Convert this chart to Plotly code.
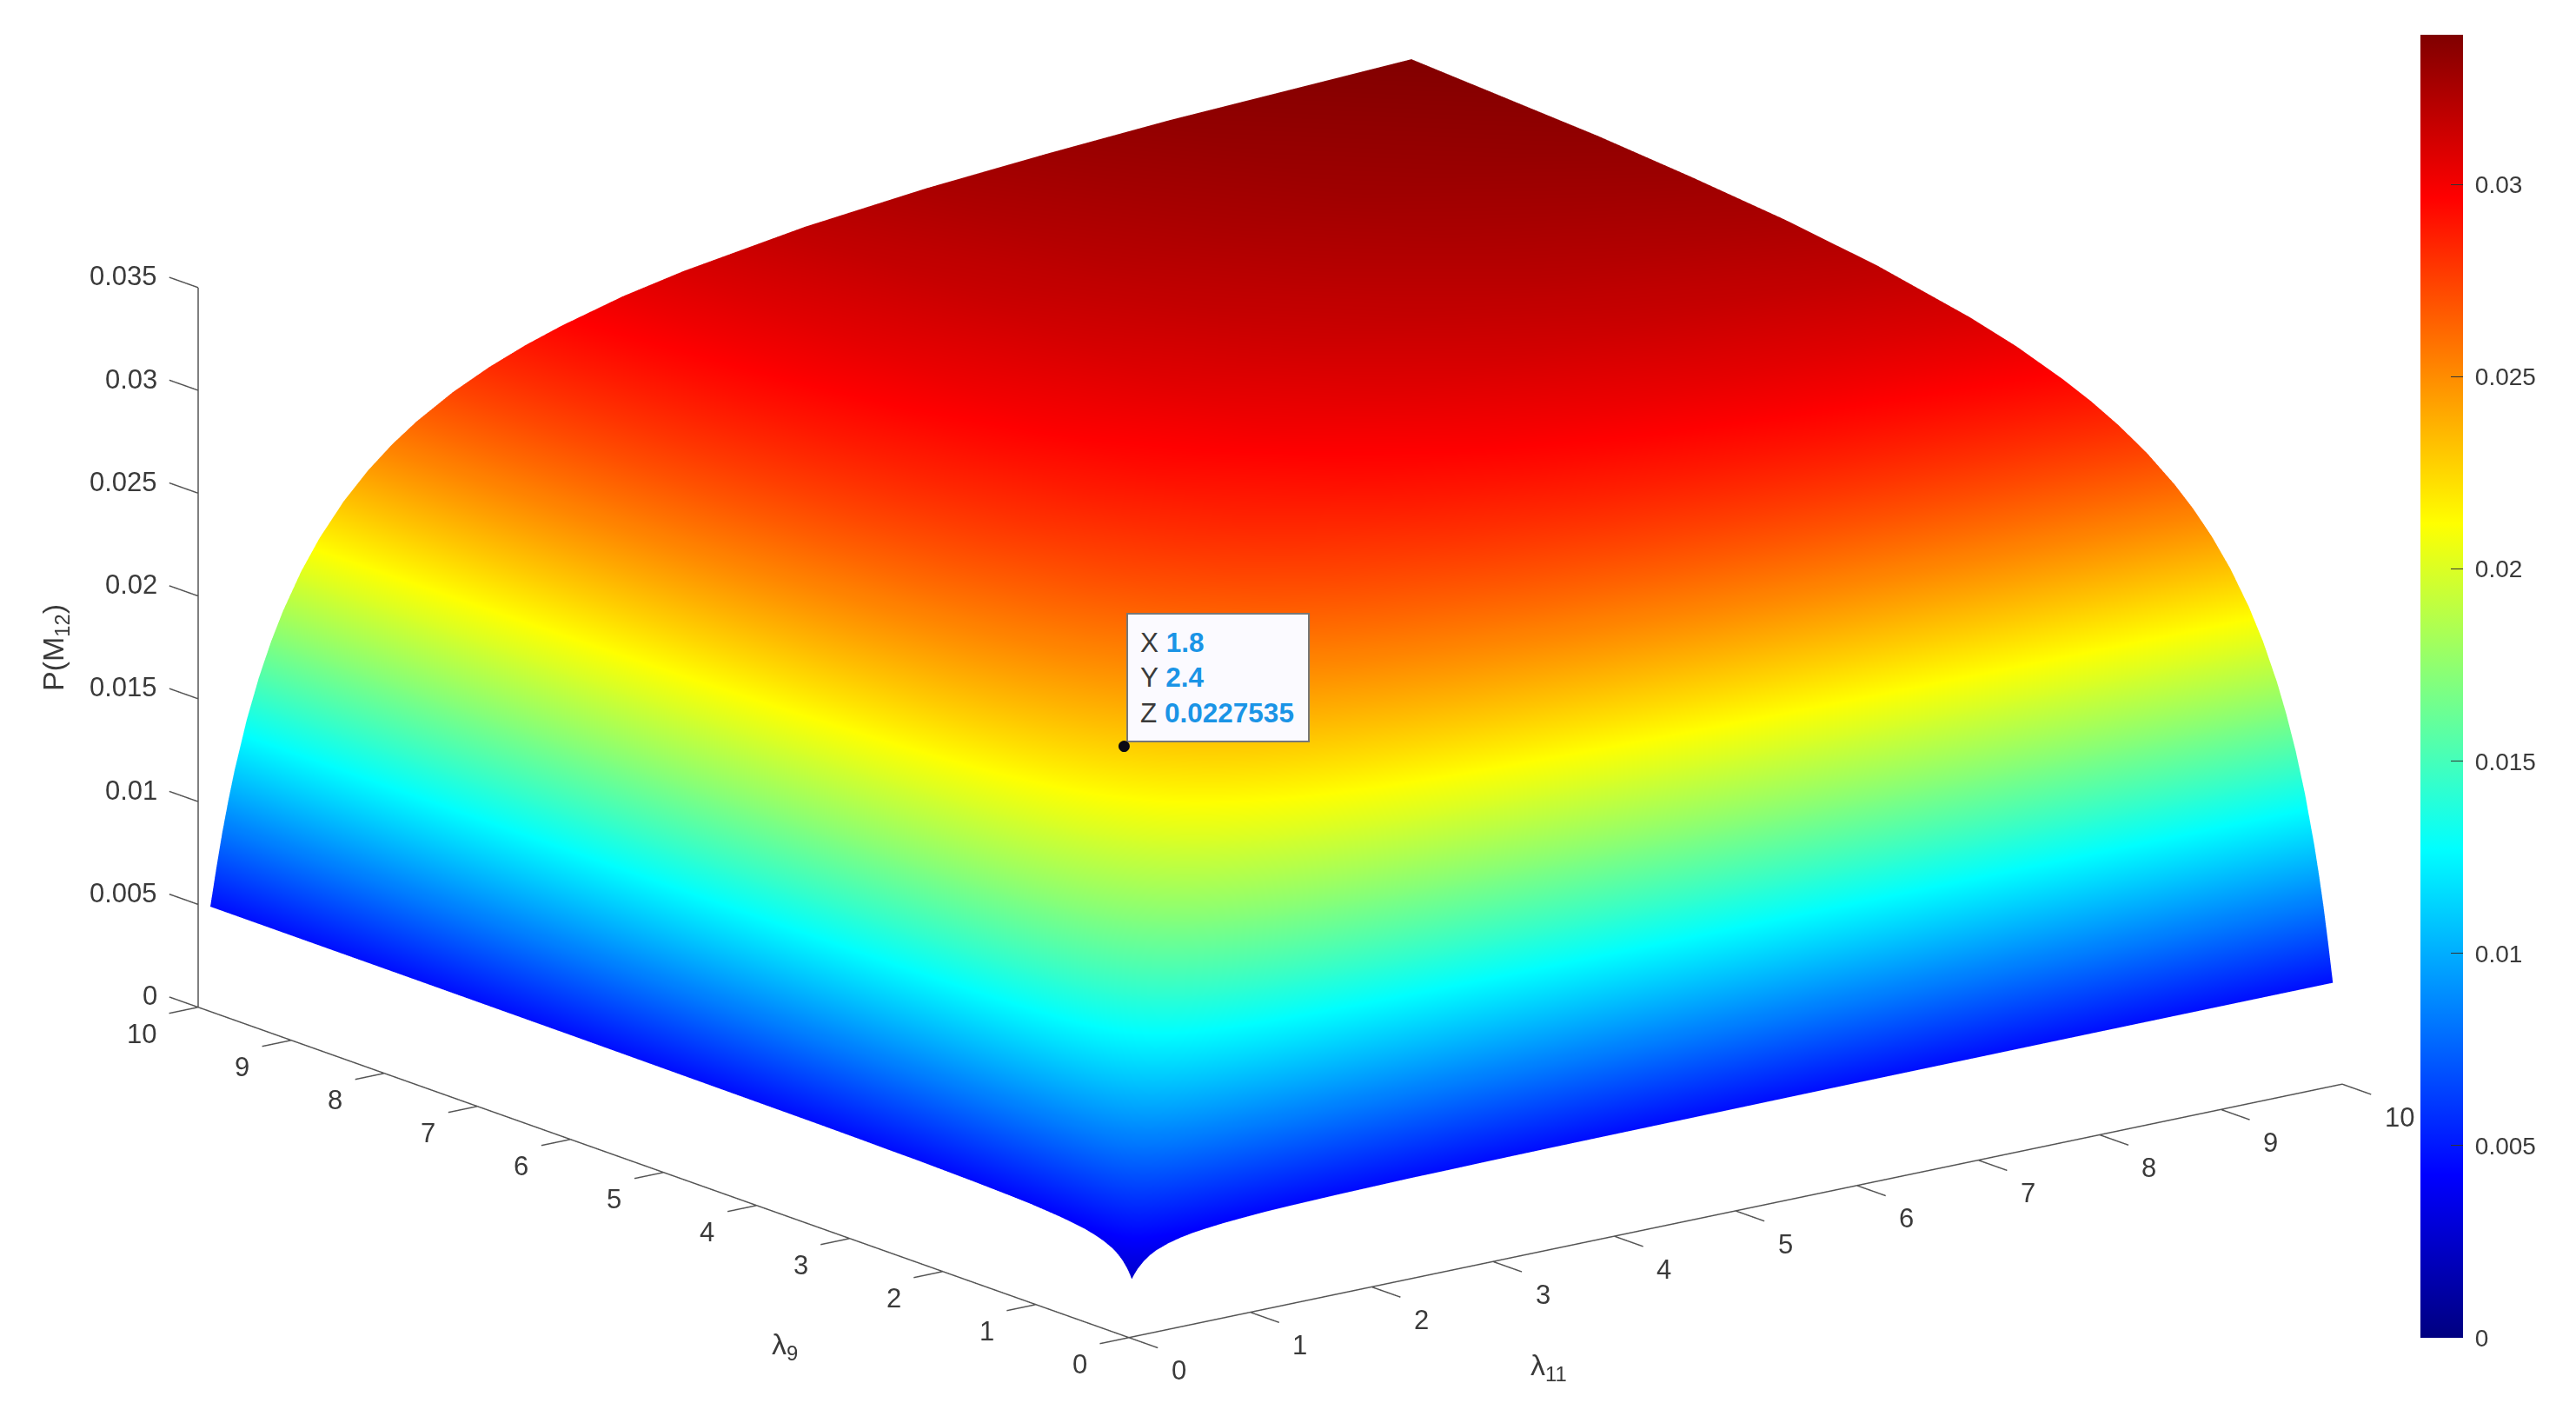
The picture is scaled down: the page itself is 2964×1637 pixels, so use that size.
"""
Surface of P(M12) against lambda_9 and lambda_11, with data tip and jet colorbar.
Values are read from the picture; the surface looks symmetric so only the upper
triangle of the table is kept.
"""

import plotly.graph_objects as go

# Grid of lambda values (both axes)
LAMBDA = [0.1, 0.12, 0.15, 0.2, 0.25, 0.3, 0.4, 0.5, 0.6, 0.7, 0.85, 1, 1.2, 1.4,
          1.6, 1.8, 2.1, 2.4, 2.7, 3, 3.5, 4, 5, 6, 7, 8, 10]

# P(M12), one row per lambda, starting on the diagonal
P_ROWS = [
    [.00256, .00276, .00301, .00332, .00354, .00371, .00393, .00408, .00419, .00426, .00435, .00441, .00448, .00452, .00455, .00458, .00461, .00464, .00465, .00467, .00469, .00470, .00472, .00474, .00475, .00476, .00477],
    [.00299, .00329, .00366, .00392, .00413, .00441, .00460, .00473, .00483, .00494, .00502, .00510, .00516, .00521, .00524, .00528, .00531, .00534, .00536, .00538, .00540, .00543, .00545, .00546, .00547, .00549],
    [.00365, .00412, .00446, .00472, .00509, .00535, .00553, .00567, .00582, .00594, .00605, .00613, .00619, .00624, .00630, .00635, .00638, .00641, .00645, .00647, .00651, .00654, .00656, .00657, .00659],
    [.00472, .00518, .00553, .00605, .00641, .00667, .00688, .00711, .00728, .00744, .00757, .00767, .00774, .00783, .00790, .00795, .00800, .00805, .00810, .00816, .00820, .00823, .00825, .00829],
    [.00573, .00617, .00682, .00728, .00762, .00789, .00819, .00842, .00864, .00881, .00894, .00904, .00917, .00926, .00933, .00939, .00947, .00953, .00962, .00968, .00972, .00975, .00979],
    [.00668, .00745, .00800, .00842, .00874, .00912, .00940, .00968, .00989, .01005, .01019, .01034, .01046, .01056, .01063, .01074, .01081, .01092, .01100, .01105, .01109, .01115],
    [.00842, .00913, .00968, .01011, .01061, .01100, .01139, .01168, .01191, .01210, .01232, .01249, .01262, .01273, .01288, .01299, .01315, .01326, .01333, .01339, .01348],
    [.00998, .01064, .01116, .01178, .01225, .01273, .01310, .01339, .01363, .01391, .01413, .01430, .01444, .01463, .01477, .01498, .01512, .01522, .01530, .01541],
    [.01138, .01199, .01270, .01325, .01382, .01426, .01460, .01488, .01522, .01548, .01569, .01586, .01609, .01626, .01651, .01668, .01680, .01690, .01703],
    [.01266, .01346, .01408, .01472, .01522, .01561, .01593, .01632, .01661, .01685, .01705, .01732, .01752, .01781, .01801, .01815, .01826, .01842],
    [.01436, .01507, .01581, .01639, .01684, .01722, .01767, .01802, .01830, .01854, .01885, .01908, .01943, .01967, .01984, .01997, .02016],
    [.01586, .01668, .01732, .01783, .01825, .01875, .01915, .01947, .01974, .02009, .02036, .02075, .02102, .02122, .02137, .02158],
    [.01759, .01830, .01887, .01934, .01991, .02036, .02072, .02102, .02142, .02173, .02218, .02249, .02271, .02289, .02313],
    [.01907, .01969, .02021, .02083, .02132, .02172, .02205, .02249, .02283, .02332, .02366, .02391, .02411, .02438],
    [.02036, .02091, .02157, .02210, .02253, .02288, .02336, .02372, .02426, .02463, .02490, .02511, .02541],
    [.02149, .02219, .02275, .02320, .02358, .02408, .02447, .02504, .02544, .02573, .02595, .02627],
    [.02295, .02354, .02403, .02443, .02498, .02539, .02601, .02643, .02675, .02699, .02733],
    [.02417, .02468, .02511, .02568, .02612, .02677, .02723, .02756, .02782, .02818],
    [.02521, .02566, .02626, .02672, .02740, .02788, .02822, .02850, .02888],
    [.02612, .02675, .02723, .02793, .02843, .02879, .02907, .02946],
    [.02740, .02790, .02864, .02916, .02954, .02984, .03026],
    [.02843, .02920, .02974, .03013, .03044, .03087],
    [.03001, .03058, .03100, .03133, .03179],
    [.03117, .03161, .03195, .03243],
    [.03205, .03240, .03289],
    [.03277, .03327],
    [.03378],
]

# Data tip
TIP_X = 1.8
TIP_Y = 2.4
TIP_Z = 0.0227535

# Ticks
LAMBDA_TICKS = [0, 1, 2, 3, 4, 5, 6, 7, 8, 9, 10]
Z_TICKS = [0, 0.005, 0.01, 0.015, 0.02, 0.025, 0.03, 0.035]
Z_TICK_TEXT = ['0', '0.005', '0.01', '0.015', '0.02', '0.025', '0.03', '0.035']
BAR_TICKS = [0, 0.005, 0.01, 0.015, 0.02, 0.025, 0.03]
BAR_TICK_TEXT = ['\u00a00', '\u00a00.005', '\u00a00.01', '\u00a00.015', '\u00a00.02', '\u00a00.025', '\u00a00.03']

JET = [
    [0, 'rgb(0,0,128)'],
    [0.125, 'rgb(0,0,255)'],
    [0.375, 'rgb(0,255,255)'],
    [0.625, 'rgb(255,255,0)'],
    [0.875, 'rgb(255,0,0)'],
    [1, 'rgb(128,0,0)'],
]

FONT = 'Liberation Sans'
TEXT_COLOR = '#3a3a3a'
AXIS_COLOR = '#555555'
VALUE_COLOR = '#1a94e6'

# Tick stub lengths in axis units
X_STUB = 0.31
Y_STUB = 0.24
Z_STUB = 0.31

# Scene scale, found by comparing the drawn corners with the reference
BOX_SCALE = 2.23

# Mirror the upper triangle into the full table
n = len(LAMBDA)
z_table = [[0.0] * n for _ in range(n)]
for i, row in enumerate(P_ROWS):
    for k, value in enumerate(row):
        z_table[i][i + k] = value
        z_table[i + k][i] = value

fig = go.Figure()

fig.add_trace(go.Surface(
    x=LAMBDA,
    y=LAMBDA,
    z=z_table,
    cmin=0,
    cmax=0.0339,
    colorscale=JET,
    showscale=True,
    hoverinfo='skip',
    lighting=dict(ambient=1, diffuse=0, specular=0, roughness=1, fresnel=0),
    colorbar=dict(
        x=2785 / 2964,
        xanchor='left',
        xpad=0,
        y=0.5177,
        yanchor='middle',
        ypad=0,
        lenmode='fraction',
        len=0.9157,
        thicknessmode='pixels',
        thickness=49,
        outlinewidth=0,
        ticks='inside',
        ticklen=14,
        tickcolor='#333333',
        tickvals=BAR_TICKS,
        ticktext=BAR_TICK_TEXT,
        tickfont=dict(family=FONT, size=28, color=TEXT_COLOR),
    ),
))

# Axis lines and tick stubs are drawn as one broken line in data coordinates
line_x, line_y, line_z = [0, 10, None, 0, 0, None, 0, 0, None], [0, 0, None, 0, 10, None, 10, 10, None], [0, 0, None, 0, 0, None, 0, 0.035, None]
for t in LAMBDA_TICKS:
    line_x += [t, t, None]
    line_y += [0, -X_STUB, None]
    line_z += [0, 0, None]
    line_x += [0, -Y_STUB, None]
    line_y += [t, t, None]
    line_z += [0, 0, None]
for t in Z_TICKS:
    line_x += [0, 0, None]
    line_y += [10, 10 + Z_STUB, None]
    line_z += [t, t, None]

fig.add_trace(go.Scatter3d(
    x=line_x,
    y=line_y,
    z=line_z,
    mode='lines',
    line=dict(color=AXIS_COLOR, width=3),
    hoverinfo='skip',
    showlegend=False,
))

tip_text = (
    f'X <span style="color:{VALUE_COLOR}"><b>{TIP_X}</b></span><br>'
    f'Y <span style="color:{VALUE_COLOR}"><b>{TIP_Y}</b></span><br>'
    f'Z <span style="color:{VALUE_COLOR}"><b>{TIP_Z}</b></span>'
)

tick_font = dict(family=FONT, size=31, color=TEXT_COLOR)
scene_notes = [
    dict(
        x=TIP_X, y=TIP_Y, z=TIP_Z,
        text=tip_text,
        showarrow=False,
        xanchor='left',
        yanchor='bottom',
        xshift=3,
        yshift=3,
        align='left',
        width=179,
        height=117,
        borderpad=14,
        bgcolor='#fbfaff',
        bordercolor='#777777',
        borderwidth=2,
        font=dict(family=FONT, size=31.5, color=TEXT_COLOR),
    ),
    # The dot is SVG text so the surface cannot cut through it
    dict(
        x=TIP_X, y=TIP_Y, z=TIP_Z,
        text='●',
        showarrow=False,
        xanchor='center',
        yanchor='middle',
        borderpad=0,
        font=dict(family='DejaVu Sans', size=17, color='#0a0a14'),
    ),
]
for t in LAMBDA_TICKS:
    scene_notes.append(dict(x=t, y=0, z=0, text=str(t), showarrow=False, font=tick_font,
                            xanchor='left', yanchor='middle', xshift=47, yshift=-38))
    scene_notes.append(dict(x=0, y=t, z=0, text=str(t), showarrow=False, font=tick_font,
                            xanchor='right', yanchor='middle', xshift=-46, yshift=-31))
for t, label in zip(Z_TICKS, Z_TICK_TEXT):
    scene_notes.append(dict(x=0, y=10, z=t, text=label, showarrow=False, font=tick_font,
                            xanchor='right', yanchor='middle', xshift=-45, yshift=13))

hidden_axis = dict(visible=False, showspikes=False)

fig.update_layout(
    width=2964,
    height=1637,
    autosize=False,
    margin=dict(l=0, r=0, t=0, b=0),
    paper_bgcolor='white',
    showlegend=False,
    font=dict(family=FONT, color=TEXT_COLOR),
    scene=dict(
        domain=dict(x=[0, 0.986], y=[0.036, 1]),
        aspectmode='manual',
        aspectratio=dict(x=1.07 * BOX_SCALE, y=1.07 * BOX_SCALE, z=0.489 * BOX_SCALE),
        camera=dict(
            projection=dict(type='orthographic'),
            eye=dict(x=-2.343, y=-3.054, z=1.089),
            center=dict(x=0, y=0, z=0),
            up=dict(x=0, y=0, z=1),
        ),
        xaxis=dict(hidden_axis, range=[-0.35, 10.35]),
        yaxis=dict(hidden_axis, range=[-0.35, 10.35]),
        zaxis=dict(hidden_axis, range=[0, 0.035]),
        annotations=scene_notes,
    ),
    annotations=[
        dict(text='P(M<sub>12</sub>)', x=63 / 2964, y=1 - 745 / 1637, xref='paper', yref='paper',
             xanchor='center', yanchor='middle',
             showarrow=False, textangle=-90, font=dict(family=FONT, size=34, color=TEXT_COLOR)),
        dict(text='λ<sub>9</sub>', x=903 / 2964, y=1 - 1548 / 1637, xref='paper', yref='paper',
             xanchor='center', yanchor='middle',
             showarrow=False, font=dict(family=FONT, size=34, color=TEXT_COLOR)),
        dict(text='λ<sub>11</sub>', x=1782 / 2964, y=1 - 1572 / 1637, xref='paper', yref='paper',
             xanchor='center', yanchor='middle',
             showarrow=False, font=dict(family=FONT, size=34, color=TEXT_COLOR)),
    ],
)

fig.write_html("out.html", config={'displayModeBar': False},
               post_script="document.body.style.margin='0';")
